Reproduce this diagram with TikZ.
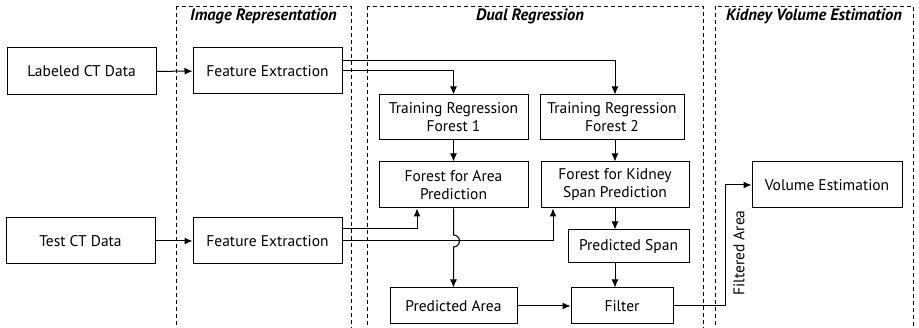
\documentclass[tikz,border=0pt]{standalone}
\usepackage{fontspec}
\setmainfont{PT Sans}
\usetikzlibrary{arrows.meta, positioning}

\begin{document}
\begin{tikzpicture}[x=1pt, y=-1pt, line width=1pt,
  every node/.style={font=\fontsize{15.5}{18}\selectfont},
  box/.style={draw, align=center, inner sep=2pt},
  region/.style={draw, line width=0.8pt, dash pattern=on 4pt off 3pt},
  title/.style={font=\fontsize{16.5}{20}\selectfont\bfseries\itshape},
  arr/.style={-{Latex[length=8pt, width=7pt]}}]
\useasboundingbox (0,0) rectangle (919,328);
\draw[region] (176,6) rectangle (351,340);
\draw[region] (367,6) rectangle (703,340);
\draw[region] (715,6) rectangle (913,340);
\node[title] (trep) at (263.5,16) {Image Representation};
\node[title] (treg) at (530,16) {Dual Regression};
\node[title] (tvol) at (814,16) {Kidney Volume Estimation};
\node[box, minimum width=149pt, minimum height=47pt] (lct) at (81.5,71.5) {Labeled CT Data};
\node[box, minimum width=149pt, minimum height=46pt] (fe1) at (267.5,71) {Feature Extraction};
\node[box, minimum width=149pt, minimum height=46pt] (tct) at (80.5,241) {Test CT Data};
\node[box, minimum width=149pt, minimum height=46pt] (fe2) at (267.5,241) {Feature Extraction};
\node[box, minimum width=149pt, minimum height=45pt] (trf1) at (453.5,117.5) {Training Regression\\Forest 1};
\node[box, minimum width=144pt, minimum height=45pt] (trf2) at (612,117.5) {Training Regression\\Forest 2};
\node[box, minimum width=149pt, minimum height=46pt] (fap) at (453.5,185) {Forest for Area\\Prediction};
\node[box, minimum width=148pt, minimum height=46pt] (fksp) at (615,185) {Forest for Kidney\\Span Prediction};
\node[box, minimum width=121pt, minimum height=33pt] (ps) at (628.5,246.5) {Predicted Span};
\node[box, minimum width=127pt, minimum height=36pt] (pa) at (453.5,306) {Predicted Area};
\node[box, minimum width=102pt, minimum height=36pt] (fil) at (622,306) {Filter};
\node[box, minimum width=150pt, minimum height=46pt] (ve) at (827,185) {Volume Estimation};
\node[rotate=90] (farea) at (739,253) {Filtered Area};
\coordinate (hop) at (fap.south |- fe2.east);
\draw[arr] (lct) -- (fe1);
\draw[arr] (tct) -- (fe2);
\draw[arr] ([yshift=10pt]fe1.east) -| (fksp.north |- trf2.north);
\draw[arr] (fe1.east) -| (trf1.north);
\draw[arr] ([yshift=12pt]fe2.east) -| ([xshift=-36.5pt]fap.south);
\draw[arr] (fe2.east) -| ([xshift=-62pt]fksp.south);
\draw[arr] (trf1) -- (fap);
\draw[arr] (fksp.north |- trf2.south) -- (fksp.north);
\draw[arr] (fap.south) -- ([yshift=6pt]hop) arc[start angle=90, end angle=-90, radius=6pt] -- (pa.north);
\draw[arr] (fksp.south) -- (fksp.south |- ps.north);
\draw[arr] (fksp.south |- ps.south) -- (fksp.south |- fil.north);
\draw[arr] (pa) -- (fil);
\draw[arr] (fil.east) -| ([xshift=-26pt]ve.west) -- (ve.west);
\end{tikzpicture}
\end{document}
